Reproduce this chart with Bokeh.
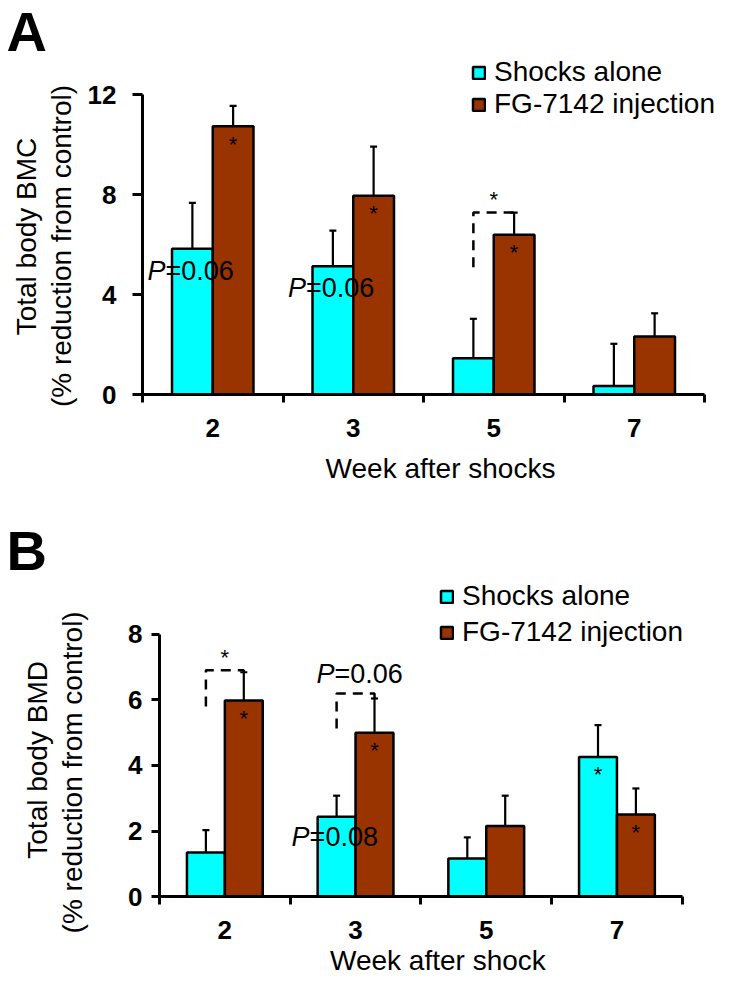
import numpy as np
from bokeh.plotting import figure
from bokeh.models import (ColumnDataSource, Range1d, FixedTicker, Label, Legend,
                          LegendItem, Whisker, TeeHead)
from bokeh.layouts import column
from bokeh.embed import file_html
from bokeh.resources import INLINE

# ---------------- data ----------------
weeks = ["2", "3", "5", "7"]
series_names = ["Shocks alone", "FG-7142 injection"]

# Panel A: total body BMC (% reduction from control)
bmc_shock = [5.84, 5.14, 1.46, 0.35]
bmc_shock_err = [1.84, 1.43, 1.58, 1.69]
bmc_fg = [10.74, 7.96, 6.40, 2.33]
bmc_fg_err = [0.82, 1.97, 0.89, 0.93]
bmc_yticks = [0, 4, 8, 12]
bmc_sig_shock = [0, 0, 0, 0]
bmc_sig_fg = [1, 1, 1, 0]

# Panel B: total body BMD (% reduction from control)
bmd_shock = [1.35, 2.44, 1.17, 4.26]
bmd_shock_err = [0.68, 0.64, 0.64, 0.97]
bmd_fg = [5.98, 5.00, 2.16, 2.51]
bmd_fg_err = [0.86, 1.04, 0.92, 0.79]
bmd_yticks = [0, 2, 4, 6, 8]
bmd_sig_shock = [0, 0, 0, 1]
bmd_sig_fg = [1, 1, 0, 1]

FONT = "Liberation Sans"
CYAN = "#00FFFF"
BROWN = "#993300"
BAR_W = 0.29
STAR_IN = -18    # pixel offset for asterisks inside bars
STAR_UP = 13     # pixel offset for asterisks above brackets


def lbl(p, **kw):
    kw.setdefault("text_font", FONT)
    kw.setdefault("text_color", "black")
    p.add_layout(Label(**kw))


def p_label(p, x, y, val, x_off, y_off=0, size=27):
    pw = 0.667 * size
    lbl(p, x=x, y=y, x_offset=x_off + pw, y_offset=y_off, text="P",
        text_align="right", text_baseline="middle", text_font_size=f"{size}px",
        text_font_style="italic")
    lbl(p, x=x, y=y, x_offset=x_off + pw, y_offset=y_off, text="=" + val,
        text_align="left", text_baseline="middle", text_font_size=f"{size}px")


def star(p, x, y, y_off):
    lbl(p, x=x, y=y, y_offset=y_off, text="*", text_align="center",
        text_baseline="alphabetic", text_font_size="22px")


def bracket(p, x0, x1, lo, hi, end):
    p.multi_line(xs=[[x0, x0, x1, x1]], ys=[[lo, hi, hi, end]], line_color="black",
                 line_width=2.5, line_dash="10 7")


def make_panel(letter, ytitle, xtitle, shock, shock_err, fg, fg_err, yticks,
               W, H, ox, oy, sx, sy, tick_out, ystandoff, ytitle_offs, ytitle_ys,
               letter_off, legend_loc, legend_spacing, xtitle_off):
    n = len(weeks)
    pos = np.arange(1, n + 1)
    ymax = yticks[-1]
    x0 = 0.5 - ox / sx
    y0 = -(H - oy) / sy
    p = figure(width=W, height=H, output_backend="svg", toolbar_location=None,
               title=None, x_range=Range1d(x0, x0 + W / sx), y_range=Range1d(y0, y0 + H / sy),
               min_border=0, min_border_left=0, min_border_right=0, min_border_top=0,
               min_border_bottom=0)
    p.outline_line_color = None
    p.xgrid.visible = False
    p.ygrid.visible = False
    p.background_fill_color = "white"
    p.border_fill_color = "white"

    src = ColumnDataSource(dict(
        xs=pos - BAR_W / 2, xf=pos + BAR_W / 2,
        s=shock, f=fg,
        s_hi=np.array(shock) + np.array(shock_err),
        f_hi=np.array(fg) + np.array(fg_err)))
    r1 = p.vbar(x="xs", top="s", bottom=0, width=BAR_W, source=src,
                fill_color=CYAN, line_color="black", line_width=2.5)
    r2 = p.vbar(x="xf", top="f", bottom=0, width=BAR_W, source=src,
                fill_color=BROWN, line_color="black", line_width=2.5)
    for base, lo, hi in (("xs", "s", "s_hi"), ("xf", "f", "f_hi")):
        w = Whisker(source=src, base=base, lower=lo, upper=hi, dimension="height",
                    line_color="black", line_width=2.2, lower_head=None,
                    upper_head=TeeHead(size=7, line_width=2.2, line_color="black"))
        p.add_layout(w)

    # axes (fixed inside the frame, limited by bounds)
    xa = p.xaxis[0]
    xa.fixed_location = 0
    xa.bounds = (0.5, n + 0.5)
    xa.ticker = FixedTicker(ticks=list(pos), minor_ticks=list(np.arange(0.5, n + 1, 1.0)))
    xa.major_label_overrides = {int(i): w for i, w in zip(pos, weeks)}
    xa.major_tick_out = 0
    xa.major_tick_in = 0
    xa.minor_tick_out = 8
    xa.minor_tick_in = 0
    xa.minor_tick_line_width = 3
    xa.minor_tick_line_color = "black"
    xa.axis_line_width = 3
    xa.axis_line_color = "black"
    xa.major_label_text_font = FONT
    xa.major_label_text_font_size = "26px"
    xa.major_label_text_font_style = "bold"
    xa.major_label_text_color = "black"
    xa.major_label_standoff = 16
    ya = p.yaxis[0]
    ya.fixed_location = 0.5
    ya.bounds = (0, ymax)
    ya.ticker = FixedTicker(ticks=yticks, minor_ticks=[])
    ya.major_tick_out = tick_out
    ya.major_tick_in = 0
    ya.major_tick_line_width = 3
    ya.major_tick_line_color = "black"
    ya.axis_line_width = 3
    ya.axis_line_color = "black"
    ya.minor_tick_line_color = None
    ya.major_label_text_font = FONT
    ya.major_label_text_font_size = "26px"
    ya.major_label_text_font_style = "bold"
    ya.major_label_text_color = "black"
    ya.major_label_standoff = ystandoff

    # axis titles and panel letter
    for txt, off, yy in zip(ytitle, ytitle_offs, ytitle_ys):
        lbl(p, x=0.5, y=yy, x_offset=off, text=txt, angle=np.pi / 2,
            text_align="center", text_baseline="middle", text_font_size="28px")
    lbl(p, x=(n + 1) / 2, y=0, x_offset=17, y_offset=xtitle_off, text=xtitle,
        text_align="center", text_baseline="middle", text_font_size="28px")
    lbl(p, x=0.5, y=ymax, x_offset=letter_off[0], y_offset=letter_off[1],
        text=letter, text_align="left", text_baseline="middle",
        text_font_size="56px", text_font_style="bold")

    legend = Legend(items=[LegendItem(label=series_names[0], renderers=[r1]),
                           LegendItem(label=series_names[1], renderers=[r2])],
                    location=legend_loc, glyph_width=15, glyph_height=15,
                    label_height=15, label_standoff=8, padding=0, margin=0,
                    spacing=legend_spacing, border_line_color=None,
                    background_fill_alpha=0, label_text_font=FONT,
                    label_text_font_size="28px", label_text_color="black")
    p.add_layout(legend)
    return p, pos


# ---------------- panel A ----------------
pA, pos = make_panel("A", ["Total body BMC", "(% reduction from control)"],
                     "Week after shocks", bmc_shock, bmc_shock_err, bmc_fg, bmc_fg_err,
                     bmc_yticks, 720, 490, 142, 394.3, 140.5, 25.0, 10, 16,
                     [-116, -81], [6.33, 5.95], (-136, 63), (471, 370), -2, -74)
for i in range(len(weeks)):
    if bmc_sig_fg[i]:
        star(pA, pos[i] + BAR_W / 2, bmc_fg[i], STAR_IN)
    if bmc_sig_shock[i]:
        star(pA, pos[i] - BAR_W / 2, bmc_shock[i], STAR_IN)
p_label(pA, pos[0] - BAR_W / 2, 4.97, "0.06", -45)
p_label(pA, pos[1] - BAR_W / 2, 4.29, "0.06", -45)
bracket(pA, pos[2] - BAR_W / 2, pos[2] + BAR_W / 2, 5.1, 7.29, bmc_fg[2] + bmc_fg_err[2])
star(pA, pos[2], 7.29, STAR_UP)

# ---------------- panel B ----------------
pB, pos = make_panel("B", ["Total body BMD", "(% reduction from control)"],
                     "Week after shock", bmd_shock, bmd_shock_err, bmd_fg, bmd_fg_err,
                     bmd_yticks, 720, 489, 159, 406.3, 130.7, 32.83, 8, 9,
                     [-122, -87], [4.17, 3.79], (-153, 84), (439, 331), 4, -64)
for i in range(len(weeks)):
    if bmd_sig_fg[i]:
        star(pB, pos[i] + BAR_W / 2, bmd_fg[i], STAR_IN)
    if bmd_sig_shock[i]:
        star(pB, pos[i] - BAR_W / 2, bmd_shock[i], STAR_IN)
bracket(pB, pos[0] - BAR_W / 2, pos[0] + BAR_W / 2, 5.8, 6.9, bmd_fg[0] + bmd_fg_err[0])
star(pB, pos[0], 6.9, STAR_UP)
bracket(pB, pos[1] - BAR_W / 2, pos[1] + BAR_W / 2, 5.13, 6.19, bmd_fg[1] + bmd_fg_err[1])
p_label(pB, pos[1], 6.19, "0.06", 4 - 0.93 * 27 - 0.667 * 27, 20)
p_label(pB, pos[1] - BAR_W / 2, 1.83, "0.08", -45)

layout = column(pA, pB, spacing=0)
open("out.html", "w").write(file_html(layout, INLINE))
